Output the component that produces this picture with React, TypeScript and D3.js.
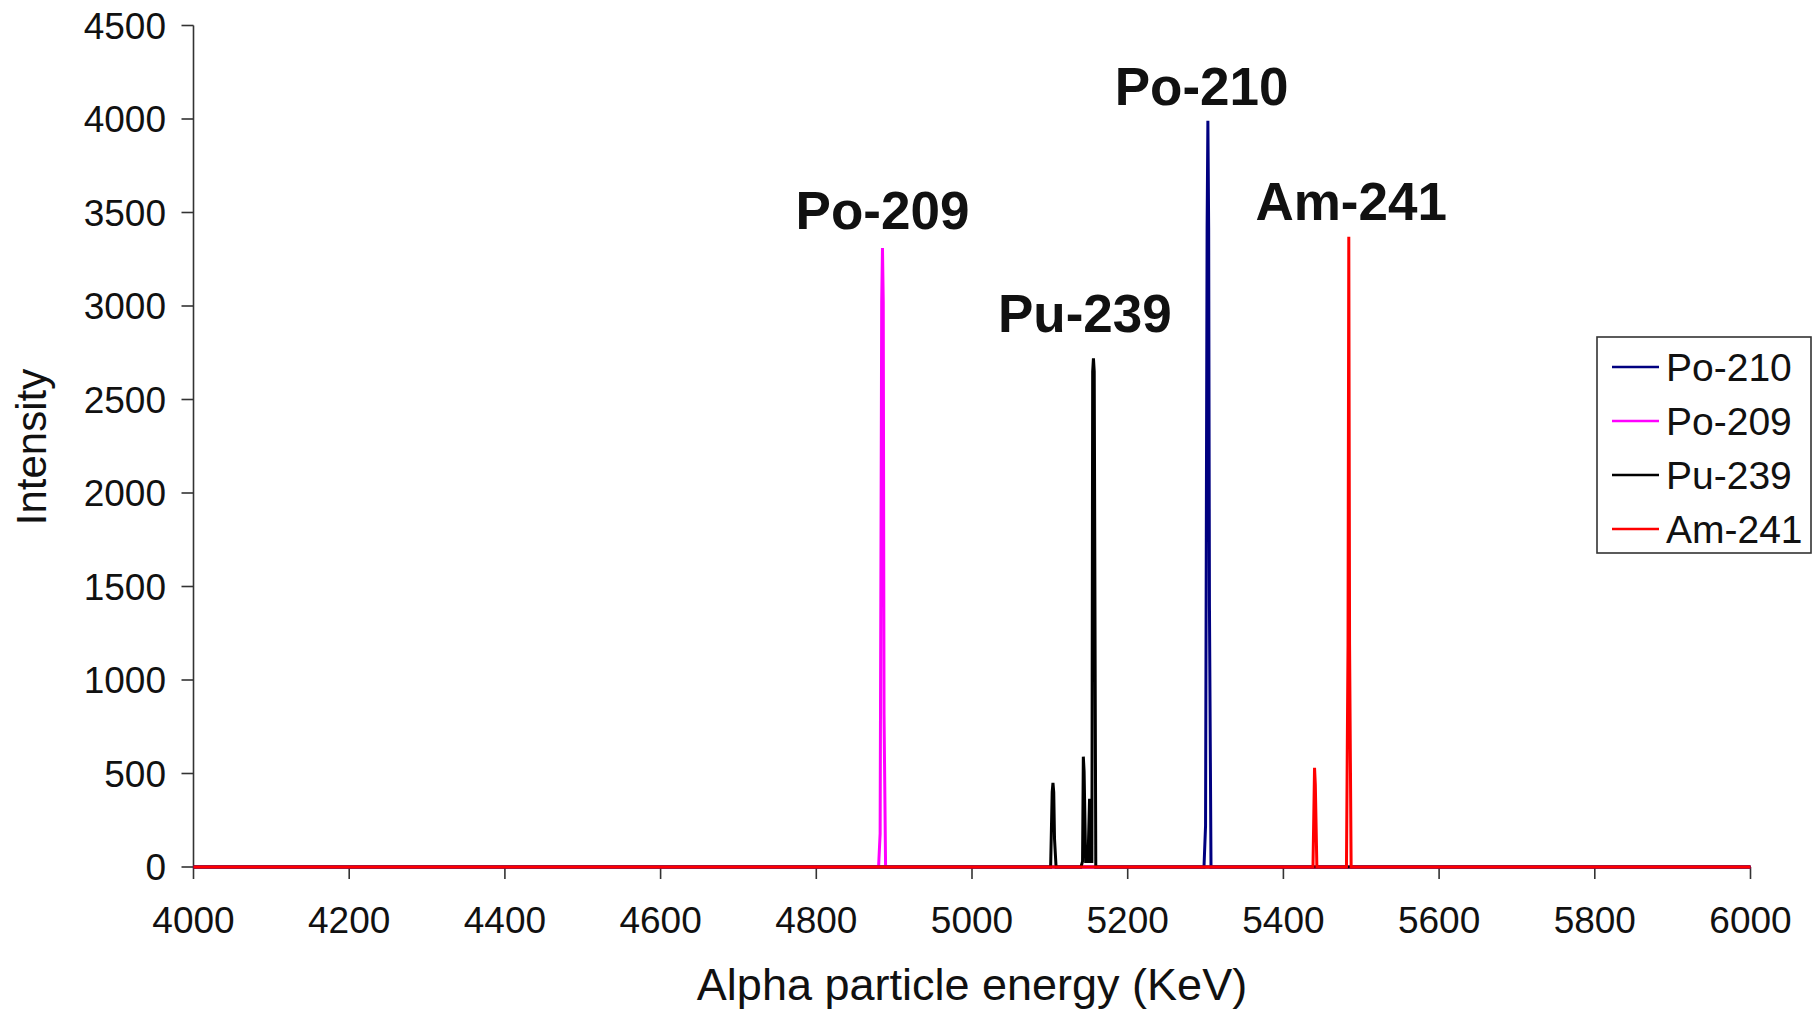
import React from "react";
import * as d3 from "d3";

const xTicks = [4000, 4200, 4400, 4600, 4800, 5000, 5200, 5400, 5600, 5800, 6000];
const yTicks = [0, 500, 1000, 1500, 2000, 2500, 3000, 3500, 4000, 4500];

const seriesNames = ["Po-210", "Po-209", "Pu-239", "Am-241"];
const seriesColors = ["#000080", "#FF00FF", "#000000", "#FF0000"];

const po210Energy = [4000, 5298, 5300, 5302, 5303, 5304, 5305, 5307, 6000];
const po210Counts = [0, 0, 220, 3420, 3990, 3420, 1400, 0, 0];

const po209Energy = [4000, 4880, 4882, 4884, 4885, 4886, 4887, 4889, 6000];
const po209Counts = [0, 0, 180, 3020, 3310, 3020, 820, 0, 0];

const pu239Energy = [4000, 5101, 5103, 5104, 5105, 5106, 5108, 5140, 5142, 5143, 5144, 5146, 5149, 5151, 5152, 5154, 5155, 5156, 5157, 5159, 6000];
const pu239Counts = [0, 0, 400, 450, 400, 150, 0, 0, 30, 590, 510, 30, 30, 365, 30, 30, 2650, 2720, 2650, 0, 0];

const am241Energy = [4000, 5438, 5440, 5441, 5443, 5481, 5483, 5484, 5485, 5487, 6000];
const am241Counts = [0, 0, 530, 440, 0, 0, 1190, 3370, 1190, 0, 0];

const peakLabels = ["Po-209", "Pu-239", "Po-210", "Am-241"];
const peakLabelEnergy = [4885, 5145, 5295, 5487];
const peakLabelValue = [3410, 2860, 4075, 3460];

const FONT = "'Liberation Sans', Arial, Helvetica, sans-serif";

export default function App() {
  const x = d3.scaleLinear().domain([4000, 6000]).range([193.5, 1750.5]);
  const y = d3.scaleLinear().domain([0, 4500]).range([867, 25.5]);

  const series = [
    { e: po210Energy, c: po210Counts },
    { e: po209Energy, c: po209Counts },
    { e: pu239Energy, c: pu239Counts },
    { e: am241Energy, c: am241Counts },
  ];

  const line = d3
    .line<[number, number]>()
    .x((d) => x(d[0]))
    .y((d) => y(d[1]));

  return (
    <svg
      width={1815}
      height={1009}
      style={{ position: "absolute", left: 0, top: 0, background: "#fff" }}
      fontFamily={FONT}
    >
      <rect x={0} y={0} width={1815} height={1009} fill="#fff" />
      {/* y axis */}
      <line x1={x(4000)} x2={x(4000)} y1={y(4500)} y2={y(0)} stroke="#333" strokeWidth={1.6} />
      {yTicks.map((t) => (
        <g key={"y" + t}>
          <line x1={x(4000) - 12} x2={x(4000)} y1={y(t)} y2={y(t)} stroke="#333" strokeWidth={1.6} />
          <text x={166} y={y(t)} dy="0.36em" textAnchor="end" fontSize={37} fill="#111">
            {t}
          </text>
        </g>
      ))}
      {/* x axis */}
      <line x1={x(4000)} x2={x(6000)} y1={y(0)} y2={y(0)} stroke="#333" strokeWidth={1.6} />
      {xTicks.map((t) => (
        <g key={"x" + t}>
          <line x1={x(t)} x2={x(t)} y1={y(0)} y2={y(0) + 12} stroke="#333" strokeWidth={1.6} />
          <text x={x(t)} y={933} textAnchor="middle" fontSize={37} fill="#111">
            {t}
          </text>
        </g>
      ))}
      {/* data */}
      {series.map((s, i) => (
        <path
          key={seriesNames[i]}
          d={line(s.e.map((e, j) => [e, s.c[j]] as [number, number])) || ""}
          fill="none"
          stroke={seriesColors[i]}
          strokeWidth={3}
          strokeLinejoin="miter"
        />
      ))}
      {/* peak labels */}
      {peakLabels.map((p, i) => (
        <text
          key={p}
          x={x(peakLabelEnergy[i])}
          y={y(peakLabelValue[i])}
          textAnchor="middle"
          fontSize={53}
          fontWeight="bold"
          fill="#111"
        >
          {p}
        </text>
      ))}
      {/* axis titles */}
      <text x={972} y={1000} textAnchor="middle" fontSize={45} fill="#111">
        Alpha particle energy (KeV)
      </text>
      <text
        transform={`translate(46,447) rotate(-90)`}
        textAnchor="middle"
        fontSize={42}
        fill="#111"
      >
        Intensity
      </text>
      {/* legend */}
      <rect x={1597} y={337} width={214} height={216} fill="#fff" stroke="#333" strokeWidth={1.6} />
      {seriesNames.map((n, i) => {
        const cy = 367 + i * 54;
        return (
          <g key={"lg" + n}>
            <line x1={1612} x2={1659} y1={cy} y2={cy} stroke={seriesColors[i]} strokeWidth={2.6} />
            <text x={1666} y={cy} dy="0.36em" fontSize={39} fill="#111">
              {n}
            </text>
          </g>
        );
      })}
    </svg>
  );
}
